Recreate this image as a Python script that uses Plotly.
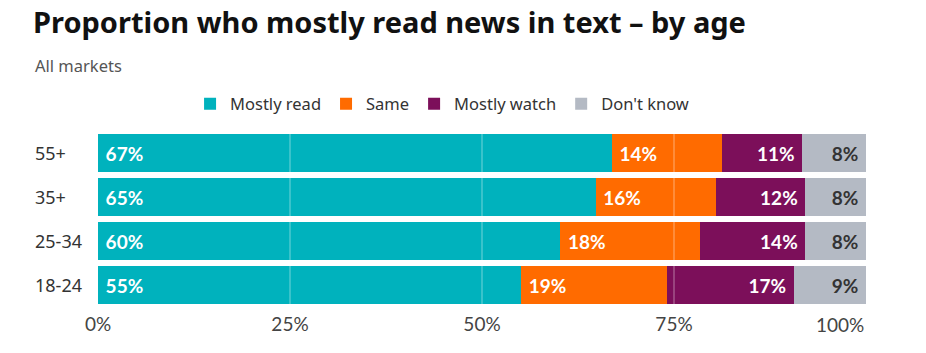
import plotly.graph_objects as go

categories = ["18-24", "25-34", "35+", "55+"]
mostly_read = [55.1, 60.2, 64.8, 66.9]
same = [19.0, 18.2, 15.7, 14.3]
mostly_watch = [16.5, 13.7, 11.6, 10.5]
dont_know = [9.4, 7.9, 7.9, 8.3]

read_labels = ["55%", "60%", "65%", "67%"]
same_labels = ["19%", "18%", "16%", "14%"]
watch_labels = ["17%", "14%", "12%", "11%"]
dk_labels = ["9%", "8%", "8%", "8%"]

x_ticks = [0, 25, 50, 75, 100]
x_tick_text = ["0%", "25%", "50%", "75%", "100%"]

NB = "\u00a0"
series = [
    ("Mostly read", mostly_read, read_labels, "#00B2BD", "white", "start"),
    ("Same", same, same_labels, "#FF6B00", "white", "start"),
    ("Mostly watch", mostly_watch, watch_labels, "#7C0F5A", "white", "end"),
    ("Don't know", dont_know, dk_labels, "#B4BAC4", "#333333", "end"),
]

fig = go.Figure()
for name, vals, labels, color, tcolor, anchor in series:
    tmpl = NB + "%{text}" if anchor == "start" else "%{text}" + NB
    fig.add_trace(go.Bar(
        y=categories, x=vals, name=name, orientation="h",
        marker=dict(color=color, line=dict(width=0)),
        text=labels, texttemplate=tmpl, textposition="inside",
        insidetextanchor=anchor, textangle=0,
        textfont=dict(family="Lato", size=19, color=tcolor, weight="bold"),
        constraintext="none",
        hoverinfo="skip",
    ))

for v in x_ticks[1:-1]:
    fig.add_shape(type="line", xref="x", yref="paper", x0=v, x1=v, y0=0, y1=1,
                  line=dict(color="rgba(255,255,255,0.45)", width=1), layer="above")

annotations = [dict(text="All markets", xref="paper", yref="paper",
                    x=-65/768, xanchor="left", y=1 + 66/176, yanchor="middle",
                    showarrow=False,
                    font=dict(family="Noto Sans", size=16.5, color="#555555"))]
# category labels, left aligned
for c in categories:
    annotations.append(dict(text=c, xref="paper", yref="y", x=-65/768, y=c,
                            xanchor="left", yanchor="middle", showarrow=False,
                            font=dict(family="Noto Sans", size=18, color="#333333")))
# last x tick label right-aligned at the edge
annotations.append(dict(text=x_tick_text[-1], xref="x", yref="paper", x=x_ticks[-1],
                        y=0, yshift=-4, xanchor="right", yanchor="top", showarrow=False,
                        font=dict(family="Lato", size=19, color="#444444")))

fig.update_layout(
    width=926, height=353,
    barmode="stack", bargap=0.15,
    paper_bgcolor="white", plot_bgcolor="white",
    margin=dict(l=98, r=60, t=131, b=46),
    title=dict(text="<b>Proportion who mostly read news in text – by age</b>",
               x=33/926, xanchor="left", y=1 - 23/353, yanchor="middle",
               font=dict(family="Noto Sans", size=29, color="#111111")),
    annotations=annotations,
    legend=dict(orientation="h", x=0.448, xanchor="center", y=1 + 27/176, yanchor="middle",
                font=dict(family="Noto Sans", size=16.5, color="#333333"),
                traceorder="normal", itemwidth=30),
    showlegend=True,
)
fig.update_xaxes(range=[0, 100], tickvals=x_ticks[:-1], ticktext=x_tick_text[:-1],
                 showgrid=False, zeroline=False, showline=False,
                 tickfont=dict(family="Lato", size=19, color="#444444"),
                 ticks="", ticklabelstandoff=4, fixedrange=True)
fig.update_yaxes(showgrid=False, zeroline=False, showline=False, ticks="",
                 showticklabels=False, fixedrange=True)

fig.write_html("out.html")
